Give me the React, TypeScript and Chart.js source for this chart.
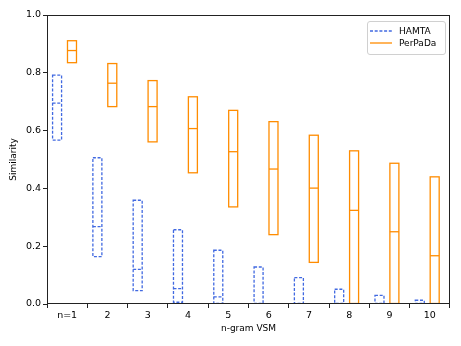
import React, { useEffect, useRef } from 'react';
import { Chart, registerables } from 'chart.js';

Chart.register(...registerables);

const categories = ['n=1', '2', '3', '4', '5', '6', '7', '8', '9', '10'];
const hamtaLow = [0.567, 0.164, 0.046, 0.006, 0.0, 0.0, 0.0, 0.0, 0.0, 0.0];
const hamtaHigh = [0.792, 0.506, 0.359, 0.257, 0.186, 0.128, 0.091, 0.051, 0.03, 0.013];
const hamtaMedian = [0.695, 0.268, 0.12, 0.053, 0.025, 0.0, 0.0, 0.0, 0.0, 0.0];
const perpadaLow = [0.835, 0.683, 0.561, 0.454, 0.336, 0.24, 0.144, 0.0, 0.0, 0.0];
const perpadaHigh = [0.911, 0.832, 0.773, 0.717, 0.67, 0.631, 0.584, 0.53, 0.487, 0.44];
const perpadaMedian = [0.877, 0.764, 0.683, 0.607, 0.527, 0.467, 0.401, 0.324, 0.25, 0.167];
const yTicks = [0, 0.2, 0.4, 0.6, 0.8, 1.0];

const HAMTA_COLOR = '#4169e1';
const PERPADA_COLOR = '#ff8c00';
const FONT = "'DejaVu Sans', sans-serif";

const boxPlugin = {
  id: 'boxDraw',
  afterDatasetsDraw(chart: any) {
    const ctx = chart.ctx;
    const yScale = chart.scales.y;
    const area = chart.chartArea;
    chart.data.datasets.forEach((ds: any, di: number) => {
      const meta = chart.getDatasetMeta(di);
      ctx.save();
      ctx.beginPath();
      ctx.rect(area.left, area.top - 2, area.right - area.left, area.bottom - area.top + 2);
      ctx.clip();
      ctx.strokeStyle = ds.boxColor;
      ctx.lineWidth = 1.3;
      ctx.setLineDash(ds.boxDash);
      meta.data.forEach((el: any, i: number) => {
        const props = el.getProps(['x', 'y', 'base', 'width'], true);
        const left = props.x - props.width / 2;
        const right = props.x + props.width / 2;
        const top = Math.min(props.y, props.base);
        const bottom = Math.max(props.y, props.base);
        ctx.strokeRect(left, top, right - left, bottom - top);
        const my = yScale.getPixelForValue(ds.medians[i]);
        ctx.beginPath();
        ctx.moveTo(left, my);
        ctx.lineTo(right, my);
        ctx.stroke();
      });
      ctx.restore();
    });
  },
  afterDraw(chart: any) {
    const ctx = chart.ctx;
    const area = chart.chartArea;
    // frame (spines)
    ctx.save();
    ctx.strokeStyle = '#222';
    ctx.lineWidth = 1;
    ctx.setLineDash([]);
    ctx.strokeRect(Math.round(area.left) + 0.5, Math.round(area.top) + 0.5, Math.round(area.right - area.left) - 1, Math.round(area.bottom - area.top) - 1);
    ctx.restore();

    // legend
    const bw = 78;
    const bh = 33;
    const bx = area.right - 5 - bw;
    const by = area.top + 6;
    ctx.save();
    ctx.fillStyle = 'rgba(255,255,255,0.85)';
    ctx.strokeStyle = '#d0d0d0';
    ctx.lineWidth = 1;
    ctx.beginPath();
    (ctx as any).roundRect(bx + 0.5, by + 0.5, bw, bh, 2.5);
    ctx.fill();
    ctx.stroke();
    ctx.font = `9px ${FONT}`;
    ctx.textBaseline = 'middle';
    ctx.textAlign = 'left';
    chart.data.datasets.forEach((ds: any, di: number) => {
      const ly = by + 10 + di * 12;
      ctx.strokeStyle = ds.boxColor;
      ctx.lineWidth = 1.3;
      ctx.setLineDash(ds.boxDash);
      ctx.beginPath();
      ctx.moveTo(bx + 3, ly);
      ctx.lineTo(bx + 25, ly);
      ctx.stroke();
      ctx.fillStyle = '#000';
      ctx.fillText(ds.label, bx + 32, ly + 0.5);
    });
    ctx.restore();
  },
};

export default function App() {
  const canvasRef = useRef<HTMLCanvasElement | null>(null);

  useEffect(() => {
    const canvas = canvasRef.current;
    if (!canvas) return;
    const chart = new Chart(canvas, {
      type: 'bar',
      data: {
        datasets: [
          {
            label: 'HAMTA',
            data: categories.map((_, i) => ({ x: i + 1 - 0.25, y: [hamtaLow[i], hamtaHigh[i]] })),
            backgroundColor: 'rgba(0,0,0,0)',
            borderWidth: 0,
            barThickness: 9,
            grouped: false,
            boxColor: HAMTA_COLOR,
            boxDash: [3, 1.7],
            medians: hamtaMedian,
          } as any,
          {
            label: 'PerPaDa',
            data: categories.map((_, i) => ({ x: i + 1 + 0.12, y: [perpadaLow[i], perpadaHigh[i]] })),
            backgroundColor: 'rgba(0,0,0,0)',
            borderWidth: 0,
            barThickness: 9,
            grouped: false,
            boxColor: PERPADA_COLOR,
            boxDash: [],
            medians: perpadaMedian,
          } as any,
        ],
      },
      options: {
        animation: false,
        responsive: false,
        maintainAspectRatio: false,
        layout: { padding: { left: 0, right: 11, top: 15, bottom: 0 } },
        plugins: {
          legend: { display: false },
          tooltip: { enabled: false },
          title: { display: false },
        },
        scales: {
          x: {
            type: 'linear',
            min: 0.5,
            max: 10.5,
            offset: false,
            afterBuildTicks: (scale: any) => {
              scale.ticks = categories.map((_, i) => ({ value: i + 1 }));
            },
            afterFit: (scale: any) => {
              scale.height = 42;
            },
            ticks: {
              autoSkip: false,
              maxRotation: 0,
              padding: 2,
              color: '#000',
              font: { family: FONT, size: 9.5 },
              callback: (v: any) => categories[Math.round(Number(v)) - 1] ?? '',
            },
            grid: {
              display: true,
              drawOnChartArea: false,
              drawTicks: true,
              tickLength: 4,
              tickColor: '#222',
              tickWidth: 1,
            },
            border: { display: false },
            title: {
              display: true,
              text: 'n-gram VSM',
              color: '#000',
              font: { family: FONT, size: 9 },
              padding: { top: 0, bottom: 12 },
            },
          },
          y: {
            type: 'linear',
            min: 0,
            max: 1,
            afterBuildTicks: (scale: any) => {
              scale.ticks = yTicks.map((v) => ({ value: v }));
            },
            afterFit: (scale: any) => {
              scale.width = 47;
            },
            ticks: {
              padding: 2,
              color: '#000',
              font: { family: FONT, size: 9.5 },
              callback: (v: any) => Number(v).toFixed(1),
            },
            grid: {
              display: true,
              drawOnChartArea: false,
              drawTicks: true,
              tickLength: 4,
              tickColor: '#222',
              tickWidth: 1,
            },
            border: { display: false },
            title: {
              display: true,
              text: 'Similarity',
              color: '#000',
              font: { family: FONT, size: 9 },
              padding: { top: 8, bottom: 0 },
            },
          },
        },
      } as any,
      plugins: [boxPlugin],
    });
    return () => {
      chart.destroy();
    };
  }, []);

  return (
    <div style={{ position: 'fixed', left: 0, top: 0, width: 461, height: 346, background: '#fff' }}>
      <canvas ref={canvasRef} width={461} height={346} style={{ width: 461, height: 346, display: 'block' }} />
    </div>
  );
}
